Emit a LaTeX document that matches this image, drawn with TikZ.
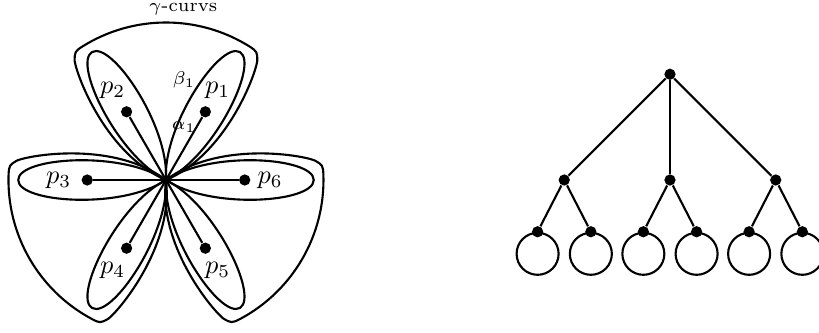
\documentclass[tikz,border=0pt]{standalone}
\usepackage{tikz}
\usetikzlibrary{positioning}
\tikzset{
  curve/.style={thick},
  edge/.style={thick},
  dot/.style={circle, fill=black, inner sep=0pt, minimum size=1.5mm},
  ring/.style={circle, draw, thick, inner sep=0pt, minimum size=5.6mm},
  smalllabel/.style={font=\scriptsize, inner sep=0pt},
  petal/.pic={
    \draw[curve] (0,0) .. controls (0.6,0.4) and (1.97,0.3) .. (1.97,0)
      .. controls (1.97,-0.3) and (0.6,-0.4) .. (0,0);
  },
  gammaloop/.pic={
    \draw[curve] (0,0) .. controls (-67:0.85) and (-41:1.8) .. (-37.5:2.0)
      .. controls +(0:0.12) and +(237:0.12) .. (-32:2.1)
      arc[start angle=-32, end angle=32, radius=2.1]
      .. controls +(122:0.12) and +(0:0.12) .. (37.5:2.0)
      .. controls (41:1.8) and (67:0.85) .. (0,0);
  }
}
\begin{document}
\begin{tikzpicture}
  \useasboundingbox (-2.213,-2.027) rectangle (8.707,2.4);
  \coordinate (o) at (0,0);
  % petals round the points, gamma curves round pairs
  \foreach \a in {0,60,...,300} \pic[rotate=\a] at (o) {petal};
  \foreach \a in {90,210,330} \pic[rotate=\a] at (o) {gammaloop};

  \node[dot] (p1) at (60:1.05) {};
  \node[dot] (p2) at (120:1.05) {};
  \node[dot] (p3) at (180:1.05) {};
  \node[dot] (p4) at (240:1.05) {};
  \node[dot] (p5) at (300:1.05) {};
  \node[dot] (p6) at (0:1.05) {};
  \foreach \i in {1,...,6} \draw[edge] (o) -- (p\i);

  \node (lp1) at (0.69,1.2) {$p_1$};
  \node (lp2) at (-0.71,1.2) {$p_2$};
  \node (lp3) at (-1.43,0) {$p_3$};
  \node (lp4) at (-0.71,-1.2) {$p_4$};
  \node (lp5) at (0.69,-1.2) {$p_5$};
  \node (lp6) at (1.39,0) {$p_6$};
  \node[smalllabel] (beta) at (0.24,1.33) {$\beta_1$};
  \node[smalllabel] (alpha) at (0.24,0.71) {$\alpha_1$};
  \node[smalllabel, anchor=north] (gam) at (0.23,2.37) {$\gamma$-curvs};

  % tree with loops
  \node[dot] (root) at (6.72,1.41) {};
  \node[dot] (m1) at (5.31,0) {};
  \node[dot] (m2) at (6.72,0) {};
  \node[dot] (m3) at (8.13,0) {};
  \node[dot] (leaf1) at (4.955,-0.69) {};
  \node[dot] (leaf2) at (5.665,-0.69) {};
  \node[dot] (leaf3) at (6.365,-0.69) {};
  \node[dot] (leaf4) at (7.075,-0.69) {};
  \node[dot] (leaf5) at (7.775,-0.69) {};
  \node[dot] (leaf6) at (8.485,-0.69) {};
  \foreach \i in {1,...,6} \node[ring, anchor=north] (ring\i) at (leaf\i.center) {};

  \draw[edge] (root) -- (m1);
  \draw[edge] (root) -- (m2);
  \draw[edge] (root) -- (m3);
  \draw[edge] (m1) -- (leaf1);
  \draw[edge] (m1) -- (leaf2);
  \draw[edge] (m2) -- (leaf3);
  \draw[edge] (m2) -- (leaf4);
  \draw[edge] (m3) -- (leaf5);
  \draw[edge] (m3) -- (leaf6);
\end{tikzpicture}
\end{document}
